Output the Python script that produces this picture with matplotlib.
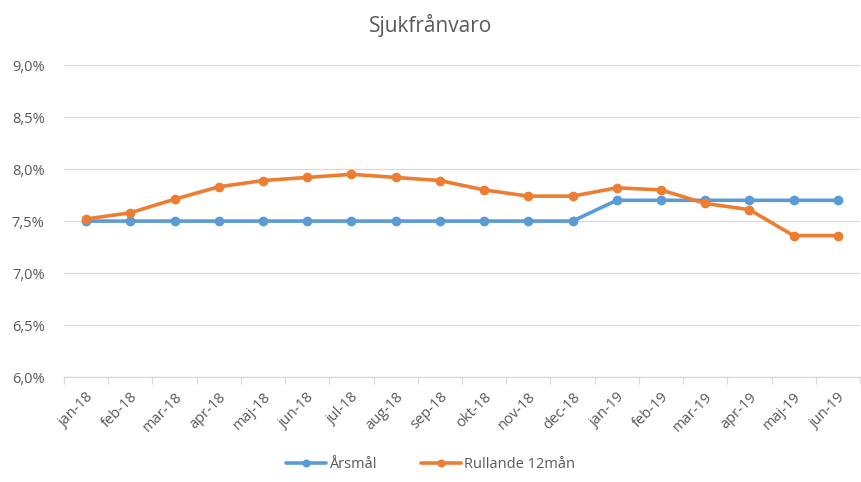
import matplotlib
matplotlib.use("Agg")
import matplotlib.pyplot as plt
from matplotlib.ticker import FixedLocator, FuncFormatter

categories = ["jan-18", "feb-18", "mar-18", "apr-18", "maj-18", "jun-18", "jul-18", "aug-18",
              "sep-18", "okt-18", "nov-18", "dec-18", "jan-19", "feb-19", "mar-19", "apr-19",
              "maj-19", "jun-19"]
arsmal = [7.5, 7.5, 7.5, 7.5, 7.5, 7.5, 7.5, 7.5, 7.5, 7.5, 7.5, 7.5, 7.7, 7.7, 7.7, 7.7, 7.7, 7.7]
rullande = [7.52, 7.58, 7.71, 7.83, 7.89, 7.92, 7.95, 7.92, 7.89, 7.80, 7.74, 7.74,
            7.82, 7.80, 7.67, 7.61, 7.36, 7.36]
y_ticks = [6.0, 6.5, 7.0, 7.5, 8.0, 8.5, 9.0]

plt.rcParams['font.family'] = ['Open Sans', 'DejaVu Sans']
txt = '#595959'
blue = '#5B9BD5'
orange = '#ED7D31'

fig = plt.figure(figsize=(8.61, 4.82), dpi=100)
ax = fig.add_axes([0.0743, 0.2178, 0.9245, 0.647])
x = list(range(len(categories)))
ax.plot(x, arsmal, color=blue, lw=2.6, marker='o', ms=6, label='Årsmål', solid_capstyle='round')
ax.plot(x, rullande, color=orange, lw=2.6, marker='o', ms=6, label='Rullande 12mån', solid_capstyle='round')

ax.set_xlim(-0.5, len(categories) - 0.5)
ax.set_ylim(6.0, 9.0)
ax.yaxis.set_major_locator(FixedLocator(y_ticks))
ax.yaxis.set_major_formatter(FuncFormatter(lambda v, p: f"{v:.1f}%".replace('.', ',')))
ax.grid(axis='y', color='#D9D9D9', lw=0.9)
ax.set_axisbelow(True)
for s in ['top', 'right', 'left']:
    ax.spines[s].set_visible(False)
ax.spines['bottom'].set_color('#D9D9D9')
ax.spines['bottom'].set_linewidth(0.9)
ax.tick_params(axis='y', length=0, labelsize=10.5, labelcolor=txt, pad=14)
ax.set_xticks(x)
ax.set_xticklabels(categories, rotation=45, ha='right', rotation_mode='anchor')
ax.tick_params(axis='x', which='major', length=0, labelsize=10.5, labelcolor=txt, pad=9)
ax.set_xticks([i - 0.5 for i in range(len(categories) + 1)], minor=True)
ax.tick_params(axis='x', which='minor', length=5, color='#D9D9D9', width=0.9)

fig.text(0.5, 0.948, 'Sjukfrånvaro', ha='center', va='center', fontsize=15, color=txt)
leg = fig.legend(loc='center', bbox_to_anchor=(0.5, 0.037), ncol=2, frameon=False,
                 fontsize=10.5, handlelength=2.8, columnspacing=3.0, handletextpad=0.2, markerscale=0.8)
for t in leg.get_texts():
    t.set_color(txt)

fig.savefig('out.png', dpi=100)
